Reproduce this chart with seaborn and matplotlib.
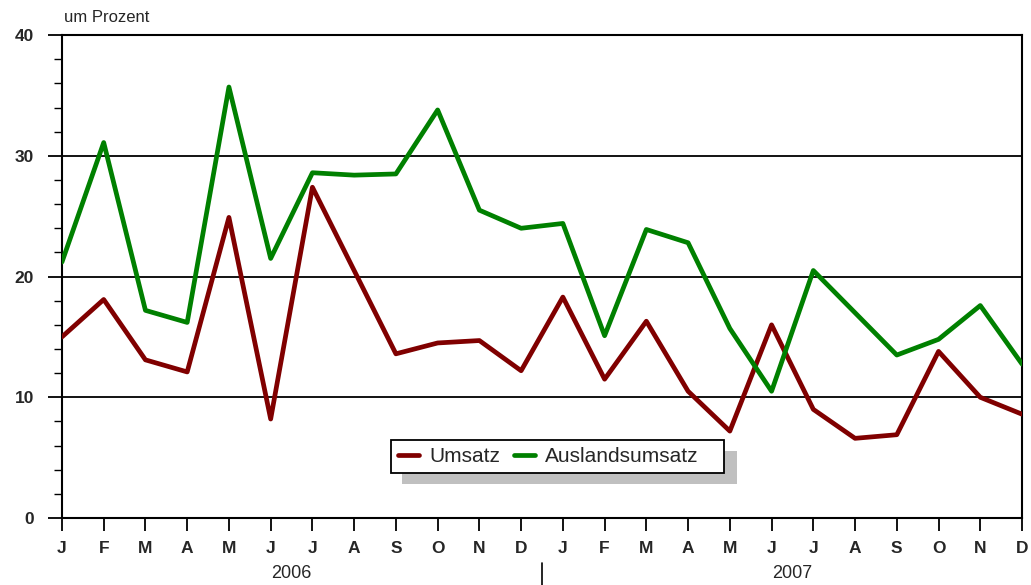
import pandas as pd
import matplotlib
matplotlib.use('Agg')
import matplotlib.pyplot as plt
import matplotlib.transforms as mtransforms
from matplotlib.patches import Rectangle
from matplotlib.ticker import MultipleLocator
import seaborn as sns

'''
Data (read off the reference chart)
'''
months = ['J', 'F', 'M', 'A', 'M', 'J', 'J', 'A', 'S', 'O', 'N', 'D',
          'J', 'F', 'M', 'A', 'M', 'J', 'J', 'A', 'S', 'O', 'N', 'D']
years = ['2006', '2007']

umsatz = [15.0, 18.1, 13.1, 12.1, 24.9, 8.2, 27.4, 20.5, 13.6, 14.5, 14.7, 12.2,
          18.3, 11.5, 16.3, 10.5, 7.2, 16.0, 9.0, 6.6, 6.9, 13.8, 10.0, 8.6]
auslandsumsatz = [21.2, 31.1, 17.2, 16.2, 35.7, 21.5, 28.6, 28.4, 28.5, 33.8, 25.5, 24.0,
                  24.4, 15.1, 23.9, 22.8, 15.7, 10.5, 20.5, 17.0, 13.5, 14.8, 17.6, 12.75]

series_names = ['Umsatz', 'Auslandsumsatz']
series_colors = ['#800000', '#008000']

'''
Build long data frame
'''
n = len(months)
df = pd.DataFrame({
    'idx': list(range(n)) * 2,
    'value': umsatz + auslandsumsatz,
    'series': [series_names[0]] * n + [series_names[1]] * n,
})

'''
Plot
'''
sns.set_theme(style='white')
plt.rcParams['font.family'] = ['Liberation Sans', 'DejaVu Sans']

fig = plt.figure(figsize=(10.31, 5.85), dpi=100)
ax = fig.add_axes([0.0601, 0.1145, 0.9312, 0.8255])

sns.lineplot(data=df, x='idx', y='value', hue='series',
             palette=dict(zip(series_names, series_colors)),
             linewidth=3.4, ax=ax, legend=False, zorder=3)

ax.set_xlim(0, n - 1)
ax.set_ylim(0, 40)
ax.set_xlabel('')
ax.set_ylabel('')

# horizontal rules at the major y ticks
for yv in [10, 20, 30]:
    ax.axhline(yv, color='black', linewidth=1.3, zorder=1)

for side in ['left', 'right', 'top', 'bottom']:
    ax.spines[side].set_visible(True)
    ax.spines[side].set_color('black')
    ax.spines[side].set_linewidth(1.5)

ax.yaxis.set_major_locator(MultipleLocator(10))
ax.yaxis.set_minor_locator(MultipleLocator(2))
ax.tick_params(axis='y', which='major', direction='out', length=10, width=1.3,
               color='black', left=True, labelsize=12.5, pad=10)
ax.tick_params(axis='y', which='minor', direction='out', length=6, width=1.0,
               color='black', left=True)
for lab in ax.get_yticklabels():
    lab.set_fontweight('bold')

ax.set_xticks(range(n))
ax.set_xticklabels(months, fontweight='bold')
ax.tick_params(axis='x', which='major', direction='out', length=9.5, width=1.3,
               color='black', bottom=True, labelsize=12.5, pad=7)

# year labels and separator below the month letters
trans = mtransforms.blended_transform_factory(ax.transData, ax.transAxes)
ax.text(5.5, -0.114, years[0], transform=trans, ha='center', va='center',
        fontsize=13)
ax.text(17.5, -0.114, years[1], transform=trans, ha='center', va='center',
        fontsize=13)
ax.plot([11.5, 11.5], [-0.093, -0.145], transform=trans, color='black',
        linewidth=1.2, clip_on=False)

fig.text(64 / 1031, 1 - 17 / 585, 'um Prozent', ha='left', va='center', fontsize=12)

# legend; frame and grey shadow drawn by hand so the box can be wider
handles = [plt.Line2D([], [], color=c, linewidth=3.4) for c in series_colors]
leg = ax.legend(handles, series_names, loc='lower left', bbox_to_anchor=(0.3427, 0.093),
                borderaxespad=0, ncol=2, fontsize=15, frameon=False,
                handlelength=1.0, handletextpad=0.48, columnspacing=0.67,
                borderpad=0.35)
leg.set_zorder(6)

fig.canvas.draw()
bb = leg.get_window_extent()
extra = 18
shadow = Rectangle((bb.x0 + 11, bb.y0 - 11), bb.width + extra + 2, bb.height,
                   transform=None, facecolor='#c0c0c0', edgecolor='none',
                   zorder=5, clip_on=False)
frame = Rectangle((bb.x0, bb.y0), bb.width + extra, bb.height,
                  transform=None, facecolor='white', edgecolor='black',
                  linewidth=1.3, zorder=5.5, clip_on=False)
ax.add_artist(shadow)
ax.add_artist(frame)

fig.savefig('out.png', dpi=100)
